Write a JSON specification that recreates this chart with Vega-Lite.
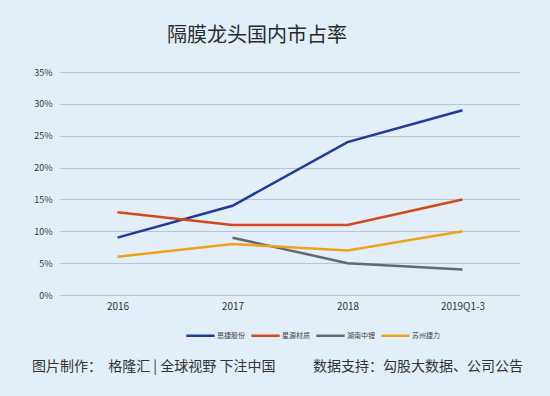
{
  "$schema": "https://vega.github.io/schema/vega-lite/v6.json",
  "autosize": {"type": "none"},
  "width": 460,
  "height": 223,
  "padding": {"left": 60, "top": 72, "right": 30, "bottom": 101},
  "background": "#e2eff9",
  "config": {
    "view": {"stroke": null},
    "font": "Noto Sans CJK SC"
  },
  "title": {
    "text": "隔膜龙头国内市占率",
    "fontSize": 20,
    "fontWeight": "normal",
    "color": "#2a2a2a",
    "font": "Noto Sans CJK SC",
    "offset": 22,
    "dx": -33
  },
  "data": {
    "values": [
      {"year": "2016", "company": "恩捷股份", "share": 0.09},
      {"year": "2017", "company": "恩捷股份", "share": 0.14},
      {"year": "2018", "company": "恩捷股份", "share": 0.24},
      {"year": "2019Q1-3", "company": "恩捷股份", "share": 0.29},
      {"year": "2016", "company": "星源材质", "share": 0.13},
      {"year": "2017", "company": "星源材质", "share": 0.11},
      {"year": "2018", "company": "星源材质", "share": 0.11},
      {"year": "2019Q1-3", "company": "星源材质", "share": 0.15},
      {"year": "2017", "company": "湖南中锂", "share": 0.09},
      {"year": "2018", "company": "湖南中锂", "share": 0.05},
      {"year": "2019Q1-3", "company": "湖南中锂", "share": 0.04},
      {"year": "2016", "company": "苏州捷力", "share": 0.06},
      {"year": "2017", "company": "苏州捷力", "share": 0.08},
      {"year": "2018", "company": "苏州捷力", "share": 0.07},
      {"year": "2019Q1-3", "company": "苏州捷力", "share": 0.10}
    ]
  },
  "mark": {"type": "line", "strokeWidth": 2.5},
  "encoding": {
    "x": {
      "field": "year",
      "type": "ordinal",
      "sort": null,
      "scale": {"type": "point", "padding": 0.5},
      "axis": {
        "title": "图片制作：\u00a0\u00a0格隆汇\u00a0|\u00a0全球视野 下注中国\u00a0\u00a0\u00a0\u00a0\u00a0\u00a0\u00a0\u00a0\u00a0\u00a0\u00a0\u00a0数据支持：勾股大数据、公司公告",
        "titleFontSize": 14,
        "titleFontWeight": "normal",
        "titleColor": "#333333",
        "titleX": 217,
        "titleY": 75,
        "titleAlign": "center",
        "titleBaseline": "alphabetic",
        "domain": false,
        "ticks": false,
        "grid": false,
        "labelAngle": 0,
        "labelFontSize": 10,
        "labelColor": "#333333",
        "labelPadding": 6
      }
    },
    "y": {
      "field": "share",
      "type": "quantitative",
      "scale": {"domain": [0, 0.35]},
      "axis": {
        "title": null,
        "format": ".0%",
        "values": [0, 0.05, 0.1, 0.15, 0.2, 0.25, 0.3, 0.35],
        "domain": false,
        "ticks": false,
        "gridColor": "#b9c6d2",
        "gridWidth": 1,
        "labelFontSize": 9,
        "labelColor": "#333333",
        "labelPadding": 8
      }
    },
    "color": {
      "field": "company",
      "type": "nominal",
      "sort": ["恩捷股份", "星源材质", "湖南中锂", "苏州捷力"],
      "scale": {
        "domain": ["恩捷股份", "星源材质", "湖南中锂", "苏州捷力"],
        "range": ["#1f3a9a", "#d24a1a", "#65696d", "#f0a21c"]
      },
      "legend": {
        "title": null,
        "orient": "none",
        "direction": "horizontal",
        "legendX": 125,
        "legendY": 248,
        "symbolType": "stroke",
        "symbolSize": 800,
        "symbolStrokeWidth": 2.5,
        "labelFontSize": 7,
        "labelColor": "#444444",
        "columnPadding": 1,
        "labelOffset": 1
      }
    }
  }
}
